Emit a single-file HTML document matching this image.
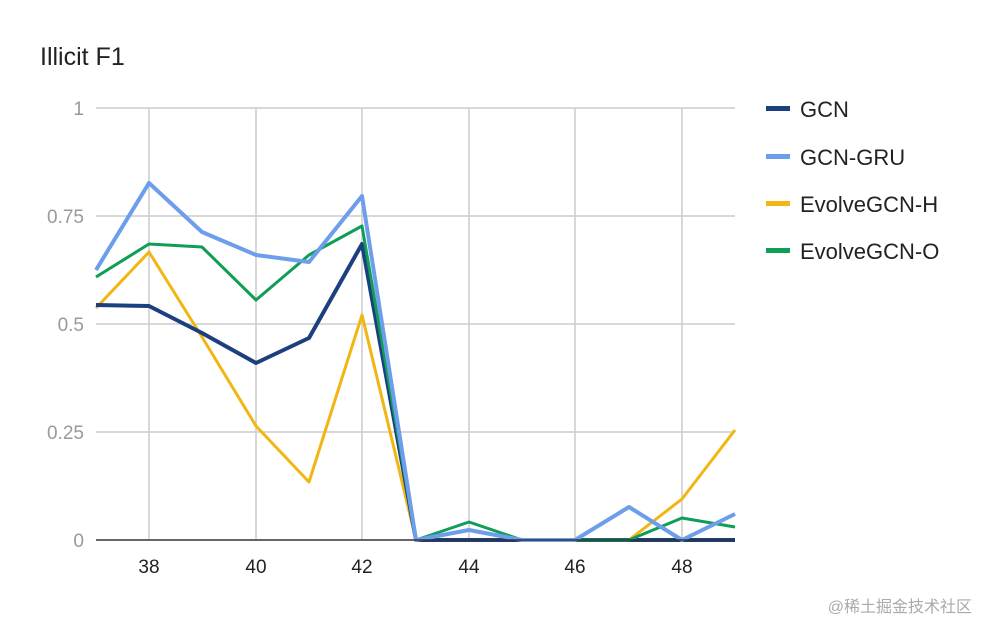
<!DOCTYPE html>
<html><head><meta charset="utf-8"><style>
html,body{margin:0;padding:0;background:#fff;}
svg{display:block;font-family:"Liberation Sans","Noto Sans CJK SC",sans-serif;}
</style></head><body>
<svg width="992" height="636" viewBox="0 0 992 636" xmlns="http://www.w3.org/2000/svg">
<rect width="992" height="636" fill="#fff"/>
<text x="40" y="65" font-size="25" fill="#222">Illicit F1</text>
<g stroke="#ccc" stroke-width="1.5">
<line x1="96" y1="108" x2="735" y2="108"/>
<line x1="96" y1="216" x2="735" y2="216"/>
<line x1="96" y1="324" x2="735" y2="324"/>
<line x1="96" y1="432" x2="735" y2="432"/>
<line x1="149" y1="108" x2="149" y2="540"/>
<line x1="256" y1="108" x2="256" y2="540"/>
<line x1="362" y1="108" x2="362" y2="540"/>
<line x1="469" y1="108" x2="469" y2="540"/>
<line x1="575" y1="108" x2="575" y2="540"/>
<line x1="682" y1="108" x2="682" y2="540"/>
</g>
<g font-size="19" fill="#999" text-anchor="end">
<text x="84" y="115">1</text>
<text x="84" y="223">0.75</text>
<text x="84" y="331">0.5</text>
<text x="84" y="439">0.25</text>
<text x="84" y="547">0</text>
</g>
<g font-size="19" fill="#222" text-anchor="middle">
<text x="149" y="573">38</text><text x="256" y="573">40</text><text x="362" y="573">42</text>
<text x="469" y="573">44</text><text x="575" y="573">46</text><text x="682" y="573">48</text>
</g>
<g fill="none" stroke-linejoin="round">
<polyline stroke="#f1b612" stroke-width="3" points="96,308 149,252 202,337 256,426 309,482 362,315 416,540 469,540 522,540 575,540 629,540 682,499 735,430"/>
<polyline stroke="#1c3f7f" stroke-width="4" points="96,305 149,306 202,333 256,363 309,338 362,244 416,540 469,540 522,540 575,540 629,540 682,540 735,540"/>
<polyline stroke="#0f9d58" stroke-width="3" points="96,277 149,244 202,247 256,300 309,255 362,226 416,540 469,522 522,540 575,540 629,540 682,518 735,527"/>
<polyline stroke="#6d9eeb" stroke-width="4" points="96,270 149,183 202,232 256,255 309,262 362,196 416,540 469,530 522,540 575,540 629,507 682,540 735,514"/>
</g>
<line x1="96" y1="540" x2="735" y2="540" stroke="#333" stroke-width="1.5"/>
<g font-size="22" fill="#222">
<rect x="766" y="106" width="24" height="5" fill="#1c3f7f"/><text x="800" y="117">GCN</text>
<rect x="766" y="154" width="24" height="5" fill="#6d9eeb"/><text x="800" y="165">GCN-GRU</text>
<rect x="766" y="201" width="24" height="5" fill="#f1b612"/><text x="800" y="212">EvolveGCN-H</text>
<rect x="766" y="248" width="24" height="5" fill="#0f9d58"/><text x="800" y="259">EvolveGCN-O</text>
</g>
<text x="972" y="612" font-size="16" fill="#aaa" text-anchor="end">@稀土掘金技术社区</text>
</svg>
</body></html>
